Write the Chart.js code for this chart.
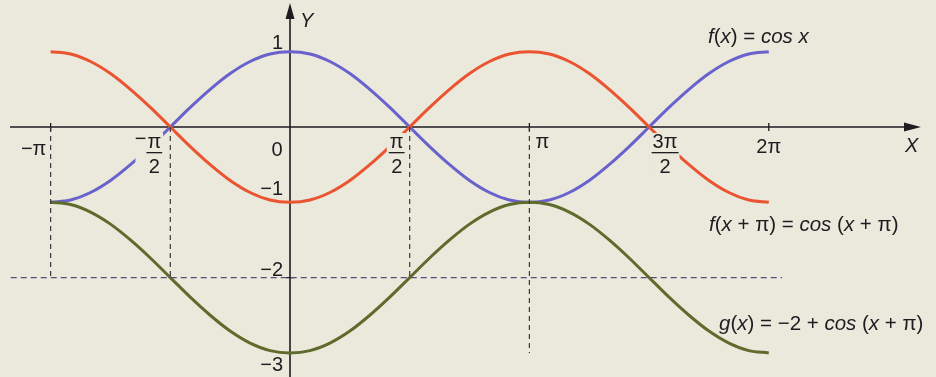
<!DOCTYPE html>
<html>
<head>
<meta charset="utf-8">
<script src="https://cdn.jsdelivr.net/npm/chart.js@4/dist/chart.umd.min.js"></script>
<style>
  html, body { margin: 0; padding: 0; background: #ebe8dc; }
  #wrap { position: relative; width: 936px; height: 377px; }
</style>
</head>
<body>
<div id="wrap"><canvas id="trig-chart"></canvas></div>
<script>
// angles in degrees, -pi .. 2pi every 15 degrees
var angles = [-180, -165, -150, -135, -120, -105, -90, -75, -60, -45, -30, -15,
  0, 15, 30, 45, 60, 75, 90, 105, 120, 135, 150, 165,
  180, 195, 210, 225, 240, 255, 270, 285, 300, 315, 330, 345, 360];

// f(x) = cos x
var cosValues = [-1, -0.97, -0.87, -0.71, -0.5, -0.26, 0, 0.26, 0.5, 0.71, 0.87, 0.97,
  1, 0.97, 0.87, 0.71, 0.5, 0.26, 0, -0.26, -0.5, -0.71, -0.87, -0.97,
  -1, -0.97, -0.87, -0.71, -0.5, -0.26, 0, 0.26, 0.5, 0.71, 0.87, 0.97, 1];

// f(x + pi) = cos (x + pi)
var shiftValues = [1, 0.97, 0.87, 0.71, 0.5, 0.26, 0, -0.26, -0.5, -0.71, -0.87, -0.97,
  -1, -0.97, -0.87, -0.71, -0.5, -0.26, 0, 0.26, 0.5, 0.71, 0.87, 0.97,
  1, 0.97, 0.87, 0.71, 0.5, 0.26, 0, -0.26, -0.5, -0.71, -0.87, -0.97, -1];

// g(x) = -2 + cos (x + pi)
var gValues = [-1, -1.03, -1.13, -1.29, -1.5, -1.74, -2, -2.26, -2.5, -2.71, -2.87, -2.97,
  -3, -2.97, -2.87, -2.71, -2.5, -2.26, -2, -1.74, -1.5, -1.29, -1.13, -1.03,
  -1, -1.03, -1.13, -1.29, -1.5, -1.74, -2, -2.26, -2.5, -2.71, -2.87, -2.97, -3];

// dashed guides
var guideX = [-180, -90, 90, 180];
var guideBottom = [-2, -2, -2, -3];
var guideLevel = -2;
var guideFrom = -210;
var guideTo = 370;

// axis labels
var xTicks = [-180, 0, 180, 360];
var xTickLabels = ['\u2212\u03c0', '0', '\u03c0', '2\u03c0'];
var yTicks = [1, -1, -2, -3];
var yTickLabels = ['1', '\u22121', '\u22122', '\u22123'];
var fracTicks = [-90, 90, 270];
var fracTops = ['\u03c0', '\u03c0', '3\u03c0'];

function points(ys) {
  return angles.map(function (a, i) { return { x: a, y: ys[i] }; });
}

var curveStyle = {
  fill: false,
  pointRadius: 0,
  borderWidth: 3,
  cubicInterpolationMode: 'monotone'
};

var datasets = [];
guideX.forEach(function (gx, i) {
  datasets.push({
    data: [{ x: gx, y: 0 }, { x: gx, y: guideBottom[i] }],
    borderColor: '#3a3540', borderWidth: 1.2, borderDash: [5, 4],
    pointRadius: 0, fill: false
  });
});
datasets.push({
  data: [{ x: guideFrom, y: guideLevel }, { x: guideTo, y: guideLevel }],
  borderColor: '#5a4c78', borderWidth: 1.2, borderDash: [6, 4],
  pointRadius: 0, fill: false
});
datasets.push(Object.assign({ label: 'g', data: points(gValues), borderColor: '#5f6b2c' }, curveStyle));
datasets.push(Object.assign({ label: 'shift', data: points(shiftValues), borderColor: '#ea5430' }, curveStyle));
datasets.push(Object.assign({ label: 'cos', data: points(cosValues), borderColor: '#6a62cc' }, curveStyle));

var BG = '#ebe8dc';
var INK = '#1e1c20';
var FONT = '"Liberation Sans", Arial, sans-serif';

function font(size, italic) {
  return (italic ? 'italic ' : '') + size + 'px ' + FONT;
}

// draws text made of [string, italic] pieces starting at x
function richText(ctx, parts, x, y, size) {
  ctx.textAlign = 'left';
  parts.forEach(function (p) {
    ctx.font = font(size, p[1]);
    ctx.fillText(p[0], x, y);
    x += ctx.measureText(p[0]).width;
  });
}

var axesPlugin = {
  id: 'axes',
  beforeDatasetsDraw: function (chart) {
    var ctx = chart.ctx;
    var xs = chart.scales.x, ys = chart.scales.y;
    var x0 = xs.getPixelForValue(0), y0 = ys.getPixelForValue(0);
    ctx.save();
    ctx.strokeStyle = INK;
    ctx.fillStyle = INK;
    ctx.lineWidth = 1.6;
    ctx.beginPath();
    ctx.moveTo(10, y0); ctx.lineTo(908, y0);
    ctx.moveTo(x0, chart.height); ctx.lineTo(x0, 16);
    ctx.stroke();
    // arrows
    ctx.beginPath();
    ctx.moveTo(921, y0); ctx.lineTo(904, y0 - 4.5); ctx.lineTo(904, y0 + 4.5); ctx.closePath();
    ctx.moveTo(x0, 3); ctx.lineTo(x0 - 4.5, 19); ctx.lineTo(x0 + 4.5, 19); ctx.closePath();
    ctx.fill();
    // ticks
    ctx.lineWidth = 1.3;
    ctx.beginPath();
    xTicks.forEach(function (t) {
      if (t === 0) return;
      var px = xs.getPixelForValue(t);
      ctx.moveTo(px, y0 - 4); ctx.lineTo(px, y0 + 4);
    });
    yTicks.forEach(function (t) {
      var py = ys.getPixelForValue(t);
      ctx.moveTo(x0 - 4, py); ctx.lineTo(x0 + 4, py);
    });
    ctx.stroke();
    ctx.restore();
  },
  afterDatasetsDraw: function (chart) {
    var ctx = chart.ctx;
    var xs = chart.scales.x, ys = chart.scales.y;
    var x0 = xs.getPixelForValue(0), y0 = ys.getPixelForValue(0);
    ctx.save();
    ctx.fillStyle = INK;
    ctx.textBaseline = 'alphabetic';

    // x tick labels
    ctx.font = font(20, false);
    var xOff = [[-17, 28], [-13, 29], [13, 21], [0, 26]];
    xTicks.forEach(function (t, i) {
      ctx.textAlign = 'center';
      ctx.fillText(xTickLabels[i], xs.getPixelForValue(t) + xOff[i][0], y0 + xOff[i][1]);
    });

    // fraction labels, knocked out of the curves behind them
    var fracOff = [-16, -13, 16];
    fracTicks.forEach(function (t, i) {
      var cx = xs.getPixelForValue(t) + fracOff[i];
      ctx.font = font(20, false);
      var w = ctx.measureText(fracTops[i]).width;
      var left = cx - w / 2 - 3 - (i === 0 ? 9 : 0);
      ctx.fillStyle = BG;
      ctx.fillRect(left, y0 + 6, cx + w / 2 + 2 - left, 46);
      ctx.fillStyle = INK;
      ctx.textAlign = 'center';
      ctx.fillText(fracTops[i], cx, y0 + 21);
      ctx.fillText('2', cx, y0 + 46);
      ctx.fillRect(cx - w / 2 - 1, y0 + 25, w + 2, 1.3);
      if (i === 0) {
        ctx.textAlign = 'right';
        ctx.fillText('\u2212', cx - w / 2 - 1, y0 + 18);
      }
    });

    // y tick labels
    ctx.font = font(20, false);
    ctx.textAlign = 'right';
    var yOff = [-3, -7, -2, 18];
    yTicks.forEach(function (t, i) {
      ctx.fillText(yTickLabels[i], x0 - 7, ys.getPixelForValue(t) + yOff[i]);
    });

    // axis names
    ctx.font = font(20, true);
    ctx.textAlign = 'left';
    ctx.fillText('Y', x0 + 10, 27);
    ctx.fillText('X', 905, y0 + 25);

    // function names
    var s = 20.5;
    richText(ctx, [['f', true], ['(', false], ['x', true], [') = ', false], ['cos x', true]], 708, 43, s);
    richText(ctx, [['f', true], ['(', false], ['x', true], [' + \u03c0) = ', false], ['cos', true],
      [' (', false], ['x', true], [' + \u03c0)', false]], 709, 231, s);
    richText(ctx, [['g', true], ['(', false], ['x', true], [') = \u22122 + ', false], ['cos', true],
      [' (', false], ['x', true], [' + \u03c0)', false]], 719, 330, s);
    ctx.restore();
  }
};

var trigChart = new Chart(
  document.getElementById('trig-chart').getContext('2d'),
  {
    type: 'line',
    data: { datasets: datasets },
    options: {
      responsive: true,
      maintainAspectRatio: false,
      animation: false,
      layout: { padding: 0 },
      plugins: { legend: { display: false }, tooltip: { enabled: false } },
      scales: {
        x: { type: 'linear', min: -218.06, max: 485.74, display: false },
        y: { type: 'linear', min: -3.32, max: 1.6866, display: false }
      }
    },
    plugins: [axesPlugin]
  }
);
</script>
</body>
</html>
